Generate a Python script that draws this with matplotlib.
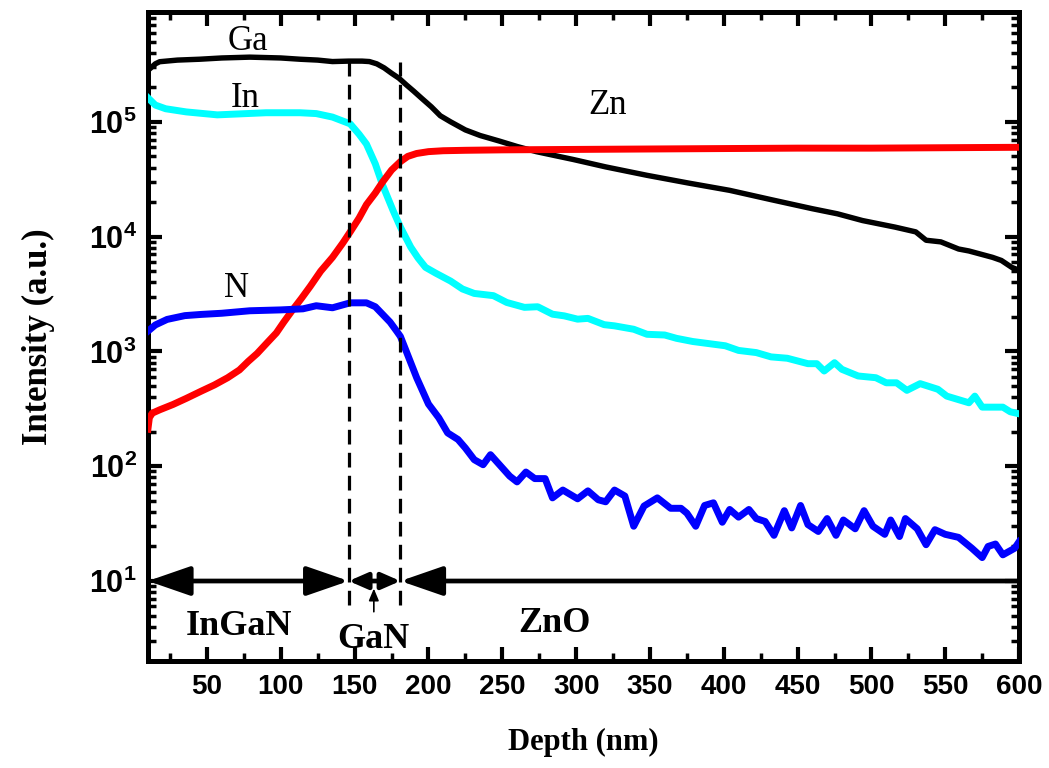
import matplotlib
matplotlib.use("Agg")
import matplotlib.pyplot as plt
from matplotlib.ticker import MultipleLocator, LogLocator, NullFormatter, FixedLocator

# ---------------- data ----------------
ga_depth = [10, 15, 18, 30, 45, 60, 79, 100, 113, 125, 135, 146, 155, 160, 165, 170, 175, 180, 185,
            190, 195, 202, 208, 215, 225, 235, 248, 260, 273, 285, 298, 320, 348, 376, 404, 432,
            460, 477, 494, 516, 530, 537, 547, 559, 566, 582, 588, 595, 600]
ga_vals = [2.8e5, 3.2e5, 3.34e5, 3.45e5, 3.51e5, 3.6e5, 3.66e5, 3.6e5, 3.51e5, 3.45e5, 3.35e5, 3.38e5,
           3.38e5, 3.35e5, 3.2e5, 2.95e5, 2.65e5, 2.4e5, 2.1e5, 1.85e5, 1.62e5, 1.35e5, 1.13e5,
           1.0e5, 8.5e4, 7.6e4, 6.8e4, 6.1e4, 5.5e4, 5.1e4, 4.7e4, 4.05e4, 3.42e4, 2.93e4, 2.53e4,
           2.1e4, 1.75e4, 1.58e4, 1.38e4, 1.21e4, 1.1e4, 9.3e3, 9.0e3, 7.8e3, 7.5e3, 6.6e3, 6.2e3,
           5.4e3, 5.1e3]

in_depth = [10, 15, 22, 36, 57, 90, 113, 124, 135, 147, 153, 158, 164, 169, 176, 181, 188, 193, 198,
            205, 215, 223, 231, 244, 253, 265, 274, 284, 292, 301, 308, 319, 326, 339, 348, 360,
            368, 379, 401, 410, 422, 432, 443, 457, 463, 468, 475, 480, 491, 503, 510, 517, 524,
            533, 545, 551, 566, 570, 575, 589, 594, 600]
in_vals = [1.62e5, 1.4e5, 1.3e5, 1.22e5, 1.15e5, 1.2e5, 1.2e5, 1.18e5, 1.1e5, 9.6e4, 7.8e4, 6.4e4,
           4.3e4, 2.8e4, 1.69e4, 1.21e4, 8.1e3, 6.5e3, 5.4e3, 4.8e3, 4.1e3, 3.5e3, 3.2e3, 3.06e3,
           2.67e3, 2.42e3, 2.45e3, 2.11e3, 2.04e3, 1.91e3, 1.94e3, 1.71e3, 1.67e3, 1.56e3, 1.41e3,
           1.39e3, 1.3e3, 1.22e3, 1.12e3, 1.02e3, 977, 896, 872, 782, 782, 675, 798, 698, 611, 590,
           533, 533, 458, 524, 468, 408, 357, 408, 327, 327, 298, 286]

zn_depth = [10, 11, 13, 18, 27, 36, 46, 55, 64, 72, 78, 84, 91, 97, 102, 108, 114, 120, 127, 135,
            142, 147, 153, 158, 164, 169, 175, 181, 186, 192, 200, 210, 225, 250, 300, 350, 400,
            450, 500, 550, 600]
zn_vals = [210, 265, 290, 310, 345, 390, 450, 510, 590, 690, 820, 960, 1.2e3, 1.45e3, 1.8e3, 2.3e3,
           2.9e3, 3.7e3, 5.0e3, 6.6e3, 8.8e3, 1.1e4, 1.45e4, 1.9e4, 2.4e4, 3.0e4, 3.8e4, 4.5e4,
           5.0e4, 5.3e4, 5.5e4, 5.6e4, 5.65e4, 5.7e4, 5.75e4, 5.8e4, 5.85e4, 5.9e4, 5.9e4, 5.95e4,
           6.0e4]

n_depth = [10, 15, 23, 35, 46, 60, 79, 100, 115, 124, 135, 147, 158, 164, 169, 174, 178.5, 181, 185,
           192, 200, 207, 213, 220, 225, 231, 237, 242, 255, 260, 266, 272, 279, 284, 291, 301,
           308, 315, 320, 326, 333, 339, 346, 355, 364, 371, 375, 381, 387, 393, 399, 404, 410,
           417, 422, 428, 434, 441, 446, 452, 457, 464, 470, 476, 481, 489, 495, 501, 509, 513,
           519, 523, 531, 537, 543, 550, 559, 568, 575, 579, 584, 589, 597, 600]
n_vals = [1.5e3, 1.7e3, 1.9e3, 2.05e3, 2.1e3, 2.15e3, 2.26e3, 2.3e3, 2.35e3, 2.5e3, 2.4e3, 2.65e3,
          2.65e3, 2.45e3, 2.1e3, 1.8e3, 1.5e3, 1.35e3, 1.0e3, 590, 348, 264, 195, 171, 144, 114,
          103, 126, 82, 73, 89, 78, 78, 53, 62, 52, 61, 51, 49, 62, 55, 30, 45, 53, 43, 43, 39, 30,
          45.5, 48, 32.5, 42, 36, 42, 35, 33, 25, 41, 29, 45.5, 31, 27, 35, 25, 34, 28.5, 41, 30,
          25.5, 34, 24.4, 35, 28.5, 20.7, 28, 25.5, 24, 19.3, 16, 20, 21, 16.9, 19.3, 22]

series_names = ["Ga", "In", "Zn", "N"]
series_colors = ["#000000", "#00FFFF", "#FF0000", "#0000FF"]

# label positions (depth, intensity)
label_pos = {"Ga": (78, 5.0e5), "In": (76, 1.6e5), "N": (70, 3.5e3), "Zn": (321, 1.4e5)}

layer_bounds = [10, 146, 181, 600]
layer_names = ["InGaN", "GaN", "ZnO"]
layer_label_pos = [(72, 4.0), (163, 3.1), (285, 4.3)]
arrow_level = 10
dash_top = [4.0e5, 3.3e5]
dash_bottom = 6.2

# ---------------- style ----------------
plt.rcParams["mathtext.fontset"] = "custom"
plt.rcParams["mathtext.rm"] = "Liberation Sans:bold"
plt.rcParams["mathtext.bf"] = "Liberation Sans:bold"
plt.rcParams["mathtext.it"] = "Liberation Sans:bold"
plt.rcParams["font.family"] = ["Liberation Sans", "DejaVu Sans"]

fig = plt.figure(figsize=(10.49, 7.68), dpi=100)
ax = fig.add_axes([0.141, 0.139, 0.8305, 0.845])

ax.plot(ga_depth, ga_vals, color=series_colors[0], lw=3.9, zorder=3)
ax.plot(in_depth, in_vals, color=series_colors[1], lw=5.0, zorder=3)
ax.plot(zn_depth, zn_vals, color=series_colors[2], lw=5.0, zorder=3)
ax.plot(n_depth, n_vals, color=series_colors[3], lw=5.0, zorder=3)

ax.set_yscale("log")
ax.set_xlim(10, 600)
ax.set_ylim(2, 9e5)

ax.xaxis.set_major_locator(MultipleLocator(50))
ax.xaxis.set_minor_locator(MultipleLocator(25))
ax.yaxis.set_major_locator(FixedLocator([1e1, 1e2, 1e3, 1e4, 1e5]))
ax.yaxis.set_minor_locator(LogLocator(base=10, subs=range(2, 10), numticks=20))
ax.yaxis.set_minor_formatter(NullFormatter())
ax.set_yticklabels([r"$10^{%d}$" % k for k in range(1, 6)])

for lab in ax.get_xticklabels():
    lab.set_fontweight("bold")
ax.tick_params(axis="x", which="major", labelsize=20, pad=9)
ax.tick_params(axis="y", which="major", labelsize=22, pad=8)
ax.tick_params(axis="both", which="major", direction="in", length=10, width=3,
               top=True, right=True)
ax.tick_params(axis="both", which="minor", direction="in", length=6, width=2.5,
               top=True, right=True)
for sp in ax.spines.values():
    sp.set_linewidth(3.6)

serif = ["Liberation Serif", "DejaVu Serif"]
ax.set_xlabel("Depth (nm)", fontsize=22, fontweight="bold", family=serif, labelpad=20)
ax.set_ylabel("Intensity (a.u.)", fontsize=25, fontweight="bold", family=serif, labelpad=24)

for name in series_names:
    x, y = label_pos[name]
    ax.text(x, y, name, fontsize=25, family=serif, ha="center", va="center")

# dashed interface lines
for xb, yt in zip(layer_bounds[1:3], dash_top):
    ax.plot([xb, xb], [dash_bottom, yt], color="black", lw=2.3, ls=(0, (4.6, 2.6)), zorder=4)

# layer arrows
heads = [("<|-|>,head_length=1.3,head_width=0.45", 20),
         ("<|-|>,head_length=0.8,head_width=0.35", 14),
         ("<|-,head_length=1.3,head_width=0.45", 20)]
for i, (style, ms) in enumerate(heads):
    ax.annotate("", xy=(layer_bounds[i + 1], arrow_level), xytext=(layer_bounds[i], arrow_level),
                arrowprops=dict(arrowstyle=style, color="black", lw=3.4, shrinkA=0, shrinkB=0,
                                mutation_scale=ms), zorder=5)
for name, (x, y) in zip(layer_names, layer_label_pos):
    ax.text(x, y, name, fontsize=26, fontweight="bold", family=serif, ha="center", va="center")

# small pointer to GaN
ax.annotate("", xy=(163, 8.6), xytext=(163, 5.4),
            arrowprops=dict(arrowstyle="-|>,head_length=0.6,head_width=0.25", color="black",
                            lw=1.2, shrinkA=0, shrinkB=0, mutation_scale=12))

fig.savefig("out.png", dpi=100)
